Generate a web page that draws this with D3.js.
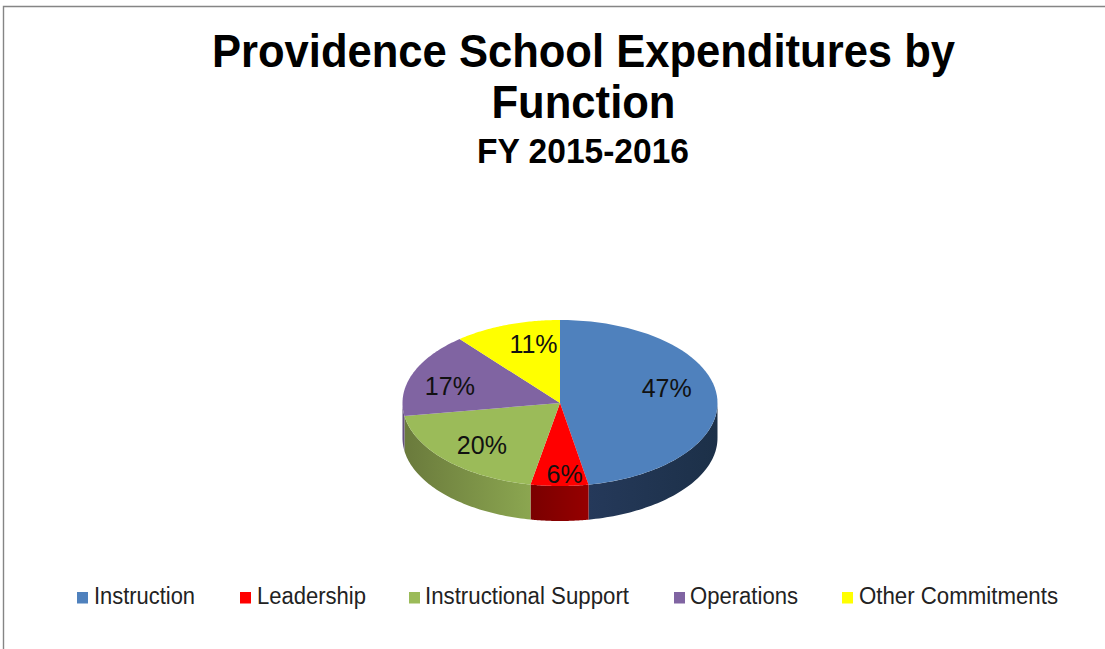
<!DOCTYPE html>
<html>
<head>
<meta charset="utf-8">
<script src="https://cdnjs.cloudflare.com/ajax/libs/d3/7.8.5/d3.min.js"></script>
<style>
html, body { margin: 0; padding: 0; background: #fff; }
svg { display: block; font-family: "Liberation Sans", Arial, sans-serif; }
</style>
</head>
<body>
<svg id="chart" width="1105" height="649"></svg>
<script>
const categories = ["Instruction", "Leadership", "Instructional Support", "Operations", "Other Commitments"];
const shares = [47.1, 5.9, 19.5, 16.5, 11];
const faceColors = ["#4f81bd", "#ff0000", "#9bbb59", "#8064a2", "#ffff00"];
const wallLight = ["#25395a", "#960000", "#8ba650", "#6b5488", "#bbbb00"];
const wallDark = ["#1c3048", "#7a0000", "#6a7a3c", "#5c4a78", "#999900"];
const titleLines = ["Providence School Expenditures by", "Function"];
const titleWidths = [743, 184];
const subtitle = "FY 2015-2016";
const legendX = [77, 240, 408, 673, 842];
const legendWidths = [101, 109, 204, 108, 199];

const svg = d3.select("#chart");

// Frame along the top and left edges
svg.append("path").attr("d", "M3.5,649V6.5H1105").attr("fill", "none")
  .attr("stroke", "#858585").attr("stroke-width", 1.4);

// Titles
svg.selectAll("text.title").data(titleLines).join("text").attr("class", "title")
  .attr("x", 583.5).attr("y", (d, i) => 66.5 + i * 51.5).attr("text-anchor", "middle")
  .attr("font-size", 46).attr("font-weight", "bold").attr("fill", "#000")
  .attr("textLength", (d, i) => titleWidths[i]).attr("lengthAdjust", "spacingAndGlyphs").text(d => d);
svg.append("text").attr("x", 583).attr("y", 162.5).attr("text-anchor", "middle")
  .attr("font-size", 35).attr("font-weight", "bold").attr("fill", "#000")
  .attr("textLength", 212).attr("lengthAdjust", "spacingAndGlyphs").text(subtitle);

// Tilted pie geometry
const cx = 560, cy = 403, rx = 157.5, ry = 83, depth = 35;
const slices = d3.pie().sort(null).value(d => d)(shares);
const px = d3.scaleLinear().domain([-1, 1]).range([cx - rx, cx + rx]);
const py = d3.scaleLinear().domain([-1, 1]).range([cy - ry, cy + ry]);
const rimPoint = (a, dy = 0) => [px(Math.sin(a)), py(-Math.cos(a)) + dy];
const rimAngles = (a0, a1) => d3.range(0, 61).map(i => a0 + (a1 - a0) * i / 60);

const defs = svg.append("defs");
const pieLayer = svg.append("g");

// Outer walls, only for the part of each slice facing the viewer
slices.forEach((s, i) => {
  const a0 = Math.max(s.startAngle, Math.PI / 2);
  const a1 = Math.min(s.endAngle, Math.PI * 1.5);
  if (a1 <= a0) return;
  const grad = defs.append("linearGradient").attr("id", "wall" + i)
    .attr("gradientUnits", "userSpaceOnUse")
    .attr("x1", px(Math.sin(i === 0 ? a1 : a0))).attr("x2", px(Math.sin(i === 0 ? a0 : a1)))
    .attr("y1", 0).attr("y2", 0);
  grad.append("stop").attr("offset", 0).attr("stop-color", wallLight[i]);
  grad.append("stop").attr("offset", 1).attr("stop-color", wallDark[i]);
  const top = rimAngles(a0, a1).map(a => rimPoint(a));
  const bottom = rimAngles(a1, a0).map(a => rimPoint(a, depth));
  pieLayer.append("path").attr("d", d3.line()(top.concat(bottom)) + "Z").attr("fill", `url(#wall${i})`);
});

// Top faces
pieLayer.selectAll("path.face").data(slices).join("path").attr("class", "face")
  .attr("d", s => d3.line()([[cx, cy]].concat(rimAngles(s.startAngle, s.endAngle).map(a => rimPoint(a)))) + "Z")
  .attr("fill", (d, i) => faceColors[i]);

// Percentage labels, placed along each slice's mid angle with a small nudge
const labelRadius = [0.68, 0.82, 0.62, 0.70, 0.74];
const labelShift = [[0, -10], [5, 3], [-8, 6], [-7, 4], [13, -1]];
pieLayer.selectAll("text.pct").data(slices).join("text").attr("class", "pct")
  .attr("x", (s, i) => px(Math.sin((s.startAngle + s.endAngle) / 2) * labelRadius[i]) + labelShift[i][0])
  .attr("y", (s, i) => py(-Math.cos((s.startAngle + s.endAngle) / 2) * labelRadius[i]) + labelShift[i][1])
  .attr("dy", "0.36em").attr("text-anchor", "middle").attr("font-size", 25).attr("fill", "#111")
  .text(s => Math.round(s.data) + "%");

// Legend
const legend = svg.selectAll("g.key").data(categories).join("g").attr("class", "key")
  .attr("transform", (d, i) => `translate(${legendX[i]},592)`);
legend.append("rect").attr("width", 11).attr("height", 11.5).attr("x", (d, i) => (i === 2 || i === 3) ? 1 : 0)
  .attr("fill", (d, i) => faceColors[i]);
legend.append("text").attr("x", 17).attr("y", 12).attr("font-size", 23).attr("fill", "#222")
  .attr("textLength", (d, i) => legendWidths[i]).attr("lengthAdjust", "spacingAndGlyphs").text(d => d);
</script>
</body>
</html>
